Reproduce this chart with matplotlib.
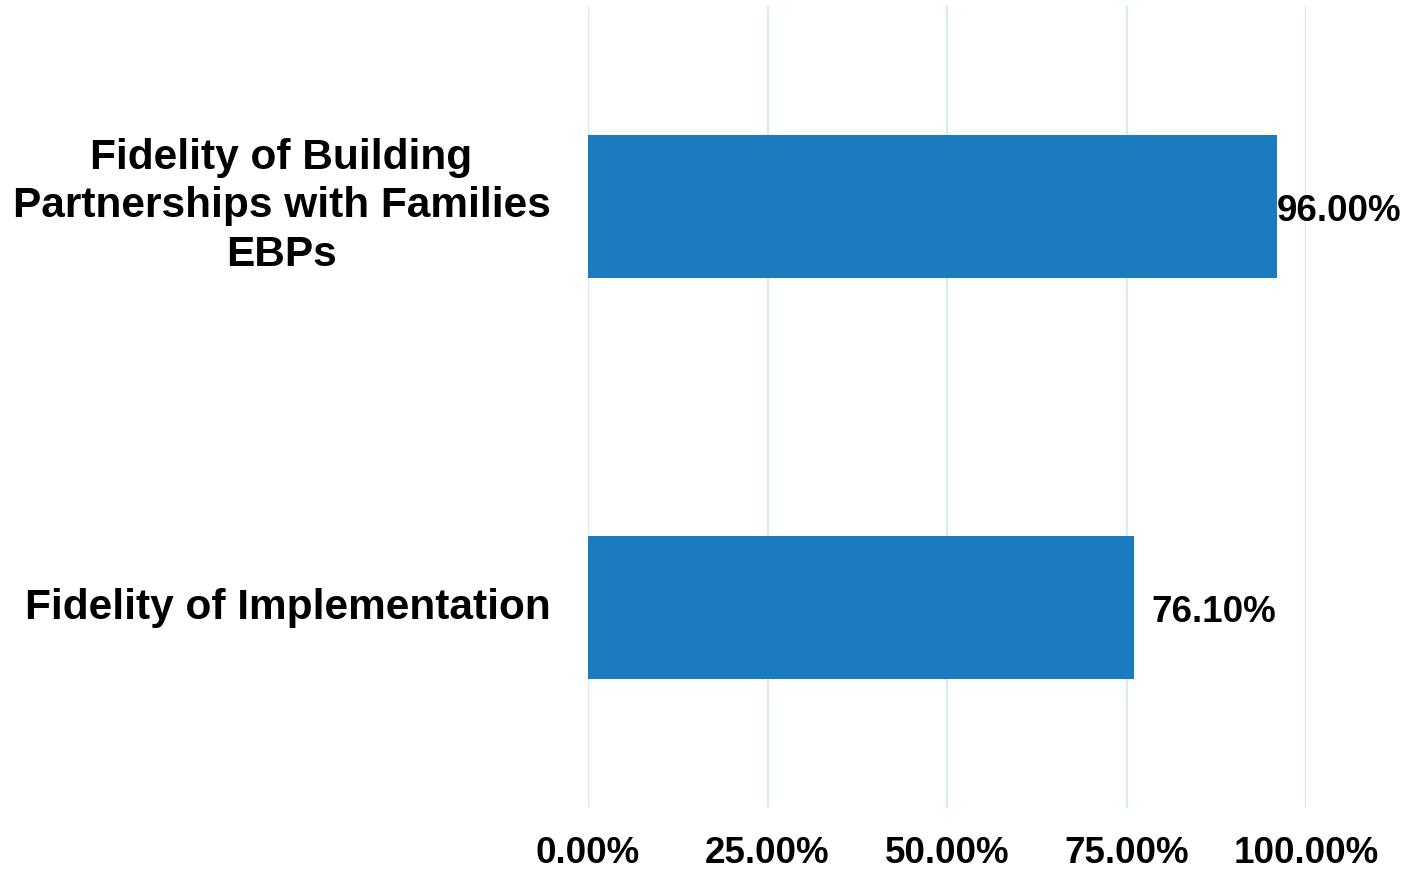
import matplotlib
matplotlib.use("Agg")
import matplotlib.pyplot as plt
from matplotlib.ticker import FuncFormatter

categories = ["Fidelity of Building\nPartnerships with Families\nEBPs",
              "Fidelity of Implementation"]
values = [96.00, 76.10]
xticks = [0, 25, 50, 75, 100]

plt.rcParams['font.family'] = ['Liberation Sans', 'DejaVu Sans']
plt.rcParams['font.weight'] = 'bold'

fig = plt.figure(figsize=(14.04, 8.71), dpi=100)
ax = fig.add_axes([588/1404, 1-808/871, 718/1404, 802/871])

bar_color = '#1a7bbf'
grid_color = '#d8e9f7'

ypos = list(range(len(categories)))
ax.barh(ypos, values, height=0.355, color=bar_color, zorder=3)
ax.set_xlim(0, 100)
ax.set_ylim(len(categories) - 0.5, -0.5)
ax.set_xticks(xticks)
ax.xaxis.set_major_formatter(FuncFormatter(lambda v, p: f"{v:.2f}%"))
ax.set_yticks(ypos)
ax.set_yticklabels(categories, fontsize=30.5, fontweight='bold')
for lbl in ax.get_yticklabels():
    lbl.set_multialignment('center')
    lbl.set_linespacing(1.26)
    lbl.set_verticalalignment('center')
ax.tick_params(axis='x', length=0, pad=20, labelsize=26.5)
ax.tick_params(axis='y', length=0, pad=27)
for lbl in ax.get_xticklabels():
    lbl.set_fontweight('bold')
ax.grid(axis='x', color=grid_color, linewidth=1.6, zorder=0)
ax.grid(axis='y', visible=False)
for s in ax.spines.values():
    s.set_visible(False)

fig.canvas.draw()
renderer = fig.canvas.get_renderer()
for y, v in zip(ypos, values):
    x_px, y_px = ax.transData.transform((v, y))
    t = fig.text(0, 0, f"{v:.2f}%", fontsize=26.5, fontweight='bold', va='center', ha='left',
                 transform=None)
    w = t.get_window_extent(renderer).width
    x_left = x_px + 17
    if x_left + w > fig.bbox.width - 3:
        x_left = fig.bbox.width - 3 - w
    t.set_position((x_left, y_px - 5))

fig.savefig("out.png", dpi=100)
